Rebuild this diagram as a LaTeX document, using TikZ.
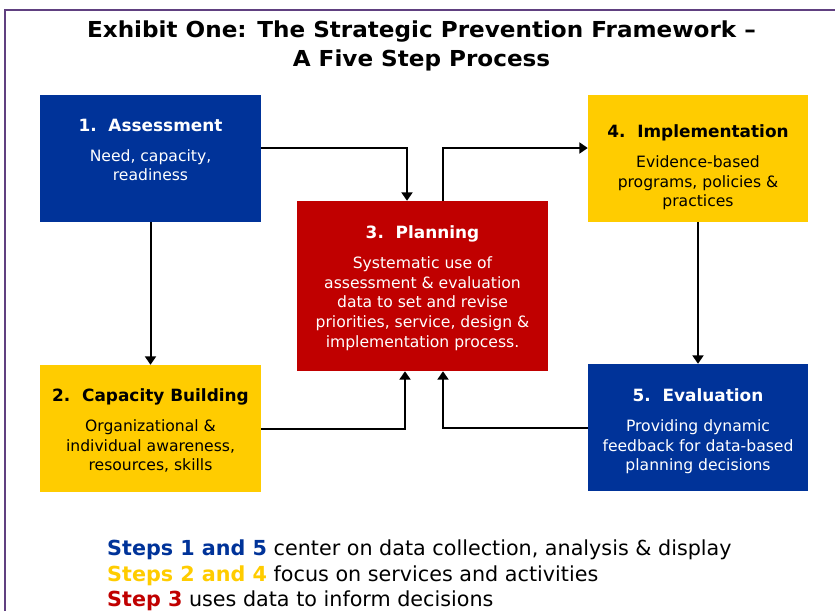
\documentclass[tikz,border=0pt]{standalone}
\usepackage{fontspec}
\setmainfont{DejaVu Sans}
\newfontfamily\widefont[FakeStretch=1.05]{DejaVu Sans}
\usetikzlibrary{positioning,arrows.meta}

\definecolor{spfblue}{RGB}{0,51,153}
\definecolor{spfyellow}{RGB}{255,204,0}
\definecolor{spfred}{RGB}{192,0,0}
\definecolor{spfpurple}{RGB}{96,64,128}

\newcommand{\stephead}[1]{{\fontsize{16.9}{19.7}\selectfont\bfseries #1}}

\tikzset{
  stepbox/.style={minimum width=221pt, minimum height=127pt, inner sep=0pt},
  steptext/.style={align=center, inner sep=0pt, font=\fontsize{15.6}{19.7}\selectfont},
  link/.style={line width=2pt, -{Triangle[length=8.5pt,width=11pt]}}
}

\begin{document}
\begin{tikzpicture}[x=1pt,y=-1pt]
\useasboundingbox (0,0) rectangle (835,611);
\draw[spfpurple, line width=2pt] (5,611) -- (5,10) -- (835,10);

\node[font=\widefont\fontsize{22}{29}\selectfont\bfseries, align=center, anchor=north, inner sep=0pt]
  (title) at (421.5,21) {Exhibit One: The Strategic Prevention Framework –\\ A Five Step Process};

% the five steps
\node[stepbox, fill=spfblue] (assess) at (150.5,158.5) {};
\node[stepbox, fill=spfyellow] (capacity) at (150.5,428.5) {};
\node[stepbox, fill=spfred, minimum width=251pt, minimum height=170pt] (plan) at (422.5,286) {};
\node[stepbox, fill=spfyellow, minimum width=220pt] (impl) at (698,158.5) {};
\node[stepbox, fill=spfblue, minimum width=220pt] (eval) at (698,427.5) {};

\node[steptext, white, below=24pt of assess.north] (assess-text)
  {\stephead{1.\ \ Assessment}\\[10pt] Need, capacity,\\ readiness};
\node[steptext, black, below=24pt of capacity.north] (capacity-text)
  {\stephead{2.\ \ Capacity Building}\\[10pt] Organizational \&\\ individual awareness,\\ resources, skills};
\node[steptext, white, below=25pt of plan.north] (plan-text)
  {\stephead{3.\ \ Planning}\\[10pt] Systematic use of\\ assessment \& evaluation\\ data to set and revise\\ priorities, service, design \&\\ implementation process.};
\node[steptext, black, below=30pt of impl.north] (impl-text)
  {\stephead{4.\ \ Implementation}\\[10pt] Evidence-based\\ programs, policies \&\\ practices};
\node[steptext, white, below=25pt of eval.north] (eval-text)
  {\stephead{5.\ \ Evaluation}\\[10pt] Providing dynamic\\ feedback for data-based\\ planning decisions};

% connectors
\draw[link] ([yshift=10.5pt]assess.east) -| ([xshift=-15.5pt]plan.north);
\draw[link] ([xshift=20.5pt]plan.north) |- ([yshift=10.5pt]impl.west);
\draw[link] (assess.south) -- (capacity.north);
\draw[link] (impl.south) -- (eval.north);
\draw[link] (capacity.east) -| ([xshift=-17.5pt]plan.south);
\draw[link] (eval.west) -| ([xshift=20.5pt]plan.south);

\node[anchor=north west, align=left, inner sep=0pt, font=\fontsize{20.7}{25.5}\selectfont]
  (legend) at (107,540) {{\bfseries\color{spfblue}Steps 1 and 5} center on data collection, analysis \& display\\
  {\bfseries\color{spfyellow}Steps 2 and 4} focus on services and activities\\
  {\bfseries\color{spfred}Step 3} uses data to inform decisions};
\end{tikzpicture}
\end{document}
